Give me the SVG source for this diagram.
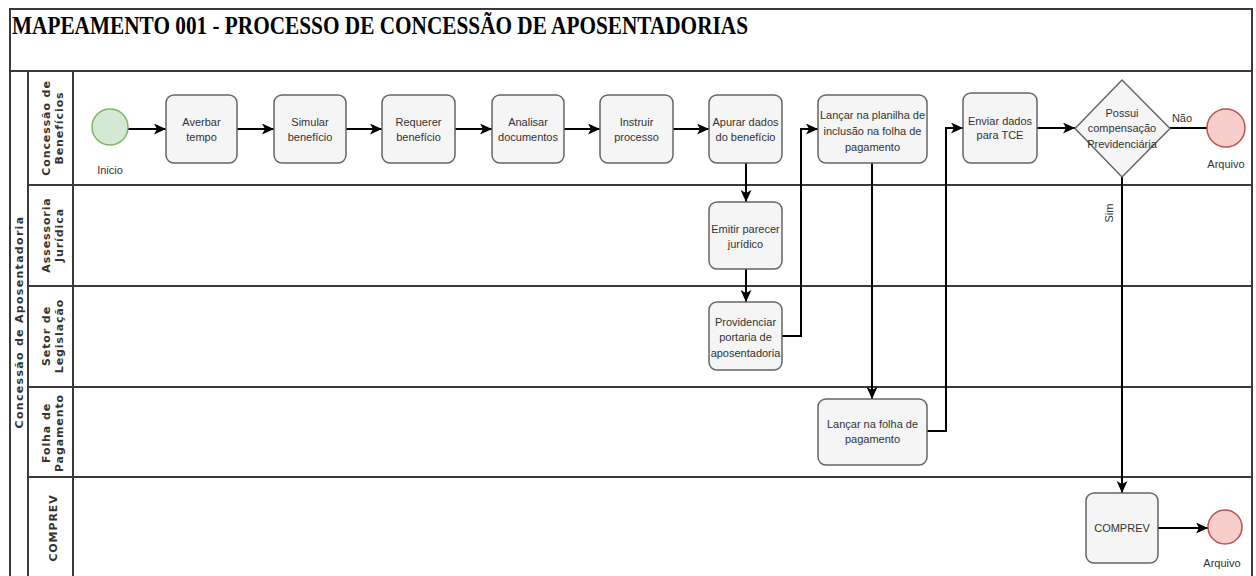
<svg xmlns="http://www.w3.org/2000/svg" width="1256" height="576" viewBox="0 0 1256 576">
<style>
.frame{fill:none;stroke:#3a3a3a;stroke-width:2}
.sep{stroke:#3a3a3a;stroke-width:2}
.lane{font-family:"DejaVu Sans",Verdana,sans-serif;font-size:11px;font-weight:bold;fill:#333;letter-spacing:0.9px;text-anchor:middle}
.pool{font-family:"DejaVu Sans",Verdana,sans-serif;font-size:11px;font-weight:bold;fill:#333;letter-spacing:1.3px;text-anchor:middle}
.box{fill:#f5f5f5;stroke:#666;stroke-width:1.5}
.t{font-family:"Liberation Sans",Arial,sans-serif;font-size:11px;fill:#333;text-anchor:middle}
.start{fill:#d5e8d4;stroke:#82b366;stroke-width:1.5}
.end{fill:#f8cecc;stroke:#b85450;stroke-width:1.5}
.c{fill:none;stroke:#000;stroke-width:2}
.ca{fill:none;stroke:#000;stroke-width:2;marker-end:url(#arr)}
.title{font-family:"Liberation Serif","Times New Roman",serif;font-size:26px;font-weight:bold;fill:#000}
</style>
<defs>
<marker id="arr" markerUnits="userSpaceOnUse" markerWidth="13" markerHeight="11" refX="12" refY="5.5" orient="auto">
<path d="M0,0 L12,5.5 L0,11 L3,5.5 z" fill="#000"/>
</marker>
</defs>
<rect width="1256" height="576" fill="#fff"/>
<g id="frame">
<path class="frame" d="M10,580 L10,9 L1252,9 L1252,580"/>
<text class="title" x="12" y="34" textLength="736" lengthAdjust="spacingAndGlyphs">MAPEAMENTO 001 - PROCESSO DE CONCESSÃO DE APOSENTADORIAS</text>
<line class="sep" x1="10" y1="71" x2="1252" y2="71"/>
<line class="sep" x1="28" y1="71" x2="28" y2="580"/>
<line class="sep" x1="73" y1="71" x2="73" y2="580"/>
<line class="sep" x1="28" y1="185" x2="1252" y2="185"/>
<line class="sep" x1="28" y1="286" x2="1252" y2="286"/>
<line class="sep" x1="28" y1="387" x2="1252" y2="387"/>
<line class="sep" x1="28" y1="477" x2="1252" y2="477"/>
<text class="pool" transform="translate(19,322) rotate(-90)" x="0" y="4">Concessão de Aposentadoria</text>
<text class="lane" transform="translate(52.5,128) rotate(-90)"><tspan x="0" y="-2.5">Concessão de</tspan><tspan x="0" y="10.5">Benefícios</tspan></text>
<text class="lane" transform="translate(52.5,235) rotate(-90)"><tspan x="0" y="-2.5">Assessoria</tspan><tspan x="0" y="10.5">Jurídica</tspan></text>
<text class="lane" transform="translate(52.5,336) rotate(-90)"><tspan x="0" y="-2.5">Setor de</tspan><tspan x="0" y="10.5">Legislação</tspan></text>
<text class="lane" transform="translate(52.5,433) rotate(-90)"><tspan x="0" y="-2.5">Folha de</tspan><tspan x="0" y="10.5">Pagamento</tspan></text>
<text class="lane" transform="translate(52.5,528) rotate(-90)" x="0" y="4">COMPREV</text>
</g>
<g id="connectors">
<line class="ca" x1="128" y1="129" x2="166" y2="129"/>
<line class="ca" x1="237" y1="129" x2="274" y2="129"/>
<line class="ca" x1="346" y1="129" x2="382" y2="129"/>
<line class="ca" x1="455" y1="129" x2="492" y2="129"/>
<line class="ca" x1="564" y1="129" x2="600" y2="129"/>
<line class="ca" x1="673" y1="129" x2="709" y2="129"/>
<line class="ca" x1="746" y1="163" x2="746" y2="202"/>
<line class="ca" x1="746" y1="269" x2="746" y2="302"/>
<polyline class="ca" points="782,336 801,336 801,129 818,129"/>
<line class="ca" x1="872" y1="163" x2="872" y2="399"/>
<polyline class="ca" points="927,431 946,431 946,128 963,128"/>
<line class="ca" x1="1037" y1="128" x2="1075" y2="128"/>
<line class="c" x1="1170" y1="128" x2="1207" y2="128"/>
<line class="ca" x1="1122" y1="177" x2="1122" y2="493"/>
<line class="ca" x1="1158" y1="528" x2="1208" y2="528"/>
<text class="t" x="1182" y="122" font-size="10">Não</text>
<text class="t" transform="translate(1109,213) rotate(-90)" x="0" y="4" font-size="10">Sim</text>
</g>
<g id="inicio">
<circle class="start" cx="110" cy="127" r="18"/>
<text class="t" x="110" y="174" font-size="12">Inicio</text>
</g>
<g id="averbar">
<rect class="box" x="166" y="95" width="71" height="68" rx="8"/>
<text class="t"><tspan x="201.5" y="126">Averbar</tspan><tspan x="201.5" y="141">tempo</tspan></text>
</g>
<g id="simular">
<rect class="box" x="274" y="95" width="72" height="68" rx="8"/>
<text class="t"><tspan x="310" y="126">Simular</tspan><tspan x="310" y="141">benefício</tspan></text>
</g>
<g id="requerer">
<rect class="box" x="382" y="95" width="73" height="68" rx="8"/>
<text class="t"><tspan x="418.5" y="126">Requerer</tspan><tspan x="418.5" y="141">benefício</tspan></text>
</g>
<g id="analisar">
<rect class="box" x="492" y="95" width="72" height="68" rx="8"/>
<text class="t"><tspan x="528" y="126">Analisar</tspan><tspan x="528" y="141">documentos</tspan></text>
</g>
<g id="instruir">
<rect class="box" x="600" y="95" width="73" height="68" rx="8"/>
<text class="t"><tspan x="636.5" y="126">Instruir</tspan><tspan x="636.5" y="141">processo</tspan></text>
</g>
<g id="apurar">
<rect class="box" x="709" y="95" width="73" height="68" rx="8"/>
<text class="t"><tspan x="745.5" y="126">Apurar dados</tspan><tspan x="745.5" y="141">do benefício</tspan></text>
</g>
<g id="emitir">
<rect class="box" x="709" y="202" width="73" height="67" rx="8"/>
<text class="t"><tspan x="745.5" y="233">Emitir parecer</tspan><tspan x="745.5" y="248">jurídico</tspan></text>
</g>
<g id="providenciar">
<rect class="box" x="709" y="302" width="73" height="68" rx="8"/>
<text class="t"><tspan x="745.5" y="326">Providenciar</tspan><tspan x="745.5" y="341">portaria de</tspan><tspan x="745.5" y="357">aposentadoria</tspan></text>
</g>
<g id="lancar-planilha">
<rect class="box" x="818" y="95" width="109" height="68" rx="8"/>
<text class="t"><tspan x="872.5" y="119">Lançar na planilha de</tspan><tspan x="872.5" y="135">inclusão na folha de</tspan><tspan x="872.5" y="151">pagamento</tspan></text>
</g>
<g id="lancar-folha">
<rect class="box" x="818" y="399" width="109" height="66" rx="8"/>
<text class="t"><tspan x="872.5" y="428">Lançar na folha de</tspan><tspan x="872.5" y="443">pagamento</tspan></text>
</g>
<g id="enviar">
<rect class="box" x="963" y="93" width="74" height="70" rx="8"/>
<text class="t"><tspan x="1000" y="125">Enviar dados</tspan><tspan x="1000" y="139">para TCE</tspan></text>
</g>
<g id="decisao">
<path class="box" d="M1122,80 L1170,128.5 L1122,177 L1075,128.5 Z" stroke-linejoin="round"/>
<text class="t"><tspan x="1122" y="117">Possui</tspan><tspan x="1122" y="132">compensação</tspan><tspan x="1122" y="148">Previdenciária</tspan></text>
</g>
<g id="arquivo1">
<circle class="end" cx="1226" cy="128" r="19"/>
<text class="t" x="1226" y="168" font-size="12">Arquivo</text>
</g>
<g id="comprev">
<rect class="box" x="1086" y="493" width="72" height="70" rx="8"/>
<text class="t" x="1122" y="532">COMPREV</text>
</g>
<g id="arquivo2">
<circle class="end" cx="1225" cy="527" r="17"/>
<text class="t" x="1222" y="567" font-size="12">Arquivo</text>
</g>
</svg>
